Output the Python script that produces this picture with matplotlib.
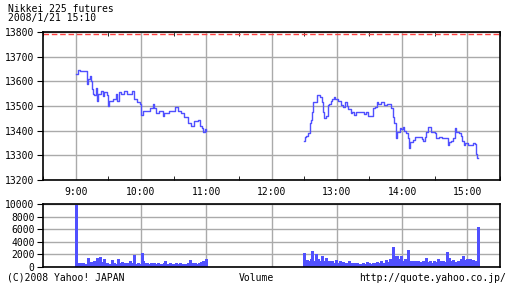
import numpy as np
import matplotlib
matplotlib.use("Agg")
import matplotlib.pyplot as plt

# price: minutes since 9:00 and price (step data)
am_min = [0, 2, 4, 10, 11, 13, 14, 15, 16, 17, 19, 20, 21, 23, 25, 26, 29, 30, 31, 34,
          37, 38, 40, 42, 44, 47, 50, 52, 54, 56, 59, 60, 62, 66, 68, 71, 72, 74, 77, 80,
          81, 86, 91, 94, 97, 100, 103, 106, 109, 112, 114, 116, 117, 119, 120]
am_px = [13630, 13645, 13642, 13590, 13610, 13622, 13600, 13570, 13550, 13545,
         13575, 13520, 13548, 13560, 13540, 13555, 13545, 13500, 13520, 13530,
         13550, 13520, 13555, 13550, 13560, 13550, 13548, 13560, 13530, 13515,
         13510, 13465, 13478, 13480, 13490, 13508, 13492, 13470, 13478, 13460,
         13470, 13478, 13497, 13480, 13470, 13455, 13430, 13420, 13438, 13445,
         13420, 13412, 13395, 13407, 13400]

pm_min = [210, 211, 212, 214, 215, 216, 217, 218, 222, 225, 226, 227, 228, 230, 232, 233,
          235, 236, 237, 238, 241, 244, 246, 248, 249, 250, 253, 254, 256, 258, 265, 267,
          269, 273, 275, 277, 278, 281, 283, 286, 290, 292, 293, 294, 295, 298, 299, 301,
          302, 304, 305, 306, 307, 310, 312, 318, 319, 321, 322, 324, 327, 330, 331, 334,
          337, 342, 343, 345, 347, 349, 350, 352, 354, 355, 357, 358, 361, 365, 367, 368,
          369, 370]
pm_px = [13358, 13373, 13378, 13392, 13430, 13443, 13477, 13517, 13546, 13538,
         13517, 13477, 13450, 13460, 13504, 13510, 13521, 13527, 13538, 13527,
         13520, 13504, 13495, 13517, 13500, 13486, 13470, 13477, 13465, 13477,
         13468, 13477, 13460, 13490, 13495, 13517, 13510, 13517, 13504, 13510,
         13490, 13457, 13430, 13369, 13396, 13410, 13405, 13416, 13400, 13389,
         13369, 13328, 13355, 13362, 13373, 13365, 13360, 13373, 13396, 13416,
         13396, 13389, 13369, 13375, 13369, 13342, 13355, 13360, 13369, 13410,
         13396, 13389, 13378, 13360, 13342, 13348, 13342, 13348, 13346, 13305,
         13288, 13288]

ref_line = 13790

# volume per minute, 9:00-11:00 and 12:30-15:10
am_vol = [9800,
          600, 550, 500, 600, 300, 450, 700, 250, 400, 500,
          1400,
          600, 300, 800, 500, 350, 900, 450, 700, 1500,
          300, 1600, 500, 800, 400, 1300, 600, 250, 700, 450,
          500, 350, 1100, 400, 600, 300, 500, 450, 1200, 350,
          600, 400, 800, 300, 700, 500, 250, 650, 400, 900,
          350, 500, 600, 1900, 300, 450, 700, 400, 550, 350,
          2200, 1000, 500, 600, 300, 700, 450, 350, 600, 500,
          400, 650, 300, 500, 450, 700, 350, 550, 400, 300,
          600, 900, 450, 350, 500, 300, 600, 400, 550, 250,
          450, 700, 350, 500, 300, 600, 400, 450, 350, 550,
          300, 500, 650, 400, 1100, 350, 600, 450, 300, 700,
          500, 400, 650, 350, 800, 450, 900, 550, 700, 1300]
pm_vol = [2300,
          1000, 800, 1100, 600, 900, 1200, 2500, 700, 1000, 600,
          2100, 800, 1300, 500, 900, 1700, 600, 1000, 700, 1500,
          500, 800, 1000, 600, 400, 900, 700, 500, 1100, 600,
          400, 700, 900, 500, 600, 800, 400, 600, 500, 700,
          900, 500, 400, 600, 300, 500, 700, 400, 600, 350,
          500, 400, 300, 600, 450, 350, 500, 800, 400, 600,
          350, 500, 700, 400, 600, 300, 800, 500, 650, 400,
          900, 500, 700, 400, 1100, 600, 800, 500, 1300, 700,
          1000, 3200, 1800, 600, 1800, 900, 1200, 500, 1800, 700,
          1000, 600, 1300, 900, 2700, 700, 1000, 500, 800, 1000,
          600, 900, 500, 700, 1000, 500, 800, 600, 900, 400,
          700, 1400, 500, 800, 600, 1000, 400, 700, 900, 500,
          800, 600, 1200, 500, 900, 700, 400, 1000, 600, 800,
          2400, 700, 1500, 500, 900, 600, 1100, 700, 800, 500,
          1000, 600, 900, 1200, 700, 1800, 1000, 1100, 800, 1300,
          900, 1200, 1000, 700, 1100, 800, 1000, 600, 900, 6300]

hour_ticks = [0, 60, 120, 180, 240, 300, 360]
hour_labels = ["9:00", "10:00", "11:00", "12:00", "13:00", "14:00", "15:00"]

blue = "#5050ff"
grid = "#aaaaaa"
fnt = "DejaVu Sans Mono"
fs = 7

plt.rcParams['font.family'] = fnt
fig = plt.figure(figsize=(5.12, 2.88), dpi=100)

# price panel
ax1 = fig.add_axes([43/512, 1-180/288, 457/512, 148/288])
ax1.step(am_min, am_px, where='post', color=blue, lw=1)
ax1.step(pm_min, pm_px, where='post', color=blue, lw=1)
ax1.axhline(ref_line, color="#ff4040", lw=1, ls=(0, (4, 2)))
ax1.set_xlim(-30, 390)
ax1.set_ylim(13200, 13800)
ax1.set_yticks(np.arange(13200, 13801, 100))
ax1.set_xticks(hour_ticks)
ax1.set_xticklabels(hour_labels)
ax1.set_xticks(np.arange(-30, 391, 60), minor=True)
ax1.grid(True, color=grid, lw=1)
ax1.set_axisbelow(True)
ax1.tick_params(axis='x', which='major', length=0, labelsize=fs, pad=5)
ax1.tick_params(axis='x', which='minor', direction='in', length=3, top=True)
ax1.tick_params(axis='y', length=4, labelsize=fs, pad=2)

# volume panel, one thin spike per minute
ax2 = fig.add_axes([43/512, 1-267/288, 457/512, 63/288])
ax2.vlines(np.arange(len(am_vol)), 0, am_vol, color=blue, lw=0.75, antialiased=False)
ax2.vlines(210 + np.arange(len(pm_vol)), 0, pm_vol, color=blue, lw=0.75, antialiased=False)
ax2.set_xlim(-30, 390)
ax2.set_ylim(0, 10000)
ax2.set_yticks(np.arange(0, 10001, 2000))
ax2.set_xticks(hour_ticks)
ax2.set_xticklabels([])
ax2.grid(True, color=grid, lw=1)
ax2.set_axisbelow(True)
ax2.tick_params(axis='x', length=0)
ax2.tick_params(axis='y', length=4, labelsize=fs, pad=2)

for ax in (ax1, ax2):
    for s in ax.spines.values():
        s.set_linewidth(1.2)

fig.text(8/512, 1-9/288, "Nikkei 225 futures", fontsize=fs, va='center', ha='left')
fig.text(8/512, 1-18/288, "2008/1/21 15:10", fontsize=fs, va='center', ha='left')
fig.text(7/512, 1-278/288, "(C)2008 Yahoo! JAPAN", fontsize=fs, va='center', ha='left')
fig.text(256/512, 1-278/288, "Volume", fontsize=fs, va='center', ha='center')
fig.text(506/512, 1-278/288, "http://quote.yahoo.co.jp/", fontsize=fs, va='center', ha='right')

fig.savefig("out.png", dpi=100)
